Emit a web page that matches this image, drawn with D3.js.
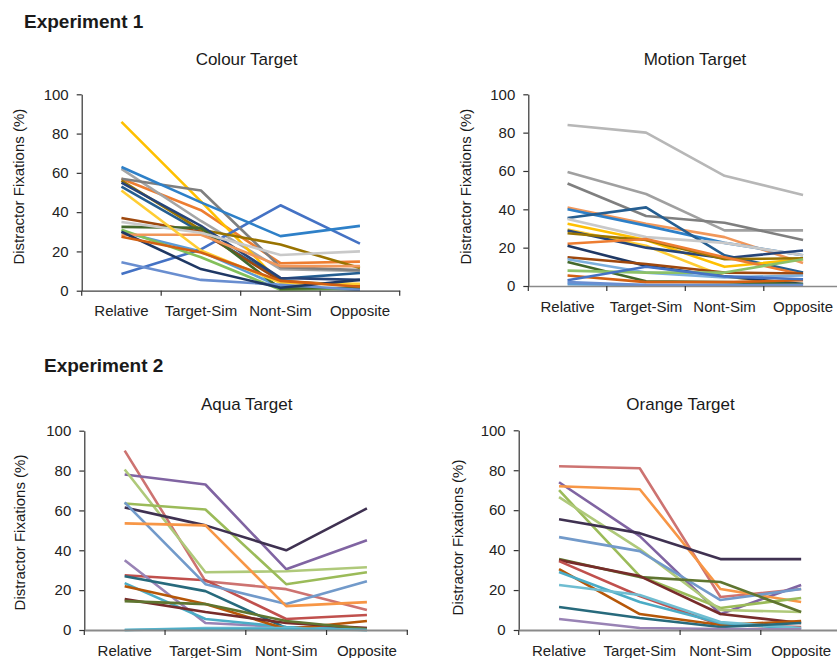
<!DOCTYPE html>
<html><head><meta charset="utf-8">
<script src="https://cdn.jsdelivr.net/npm/d3@7"></script>
<style>
body{margin:0;background:#fff;}
svg{display:block;font-family:"Liberation Sans",Arial,sans-serif;}
</style></head>
<body><svg id="c" width="837" height="658"></svg>
<script>
const categories = ["Relative","Target-Sim","Nont-Sim","Opposite"];
const yTicks = [0,20,40,60,80,100];

// Experiment 1 – Colour Target (one row per participant)
const colourValues = [
  [30,20,2,0.5],[57,41,14,14.8],[62,35.5,11,10],[86,45.5,4,3],[8.5,21,43.5,24],
  [31,17,0.5,1],[53,30,6,9],[37,30,5,2.5],[57,51,12,10.5],[56,31,23.5,11.5],
  [55,33,6.5,5.5],[32.5,32,1,1.5],[63,45,27.8,33],[28.5,28.5,12.5,12.5],[35,29.5,18.2,20],
  [51,20.5,4,3.5],[14.5,5.5,3,0.5],[30,11,1.5,5.5],[27.5,19.5,5,2]
];
const colourColors = ["#5B9BD5","#ED7D31","#A5A5A5","#FFC000","#4472C4","#82C05A","#255E91","#9E480E","#7F7F7F","#997300",
  "#264478","#43682B","#2E80C8","#F1975A","#C9C9C9","#FFCD33","#698ED0","#1F3864","#D26012"];

// Experiment 1 – Motion Target
const motionValues = [
  [84,80,57.5,47.5],[59.5,48,29,29],[53.5,36.5,33,24],[41,32.5,25.5,12],[40,31.5,22.5,16],
  [35.5,41,16,7],[35,25.5,22.5,16],[32.5,24,10,14],[29.5,21,5,0.5],[29,20,14.5,18.5],
  [27.5,24,14,14.5],[22,24.5,15,6],[21,10.5,5,1],[15,11.5,7,6.5],[14,7,4.5,5.5],
  [12.5,2.5,2,1],[8,7,7,14],[5.5,2,2,3],[3,10,5,3.5],[1,0.5,0.5,0.5],[2,0.5,0.3,0.5]
];
const motionColors = ["#B7B7B7","#A0A0A0","#7F7F7F","#F1975A","#2E80C8","#255E91","#C9C9C9","#FFC000","#FFCD33","#264478",
  "#997300","#ED7D31","#1F3864","#9E480E","#7CAFDD","#43682B","#8CC168","#D26012","#4472C4","#5B9BD5","#698ED0"];

// Experiment 2 – Aqua Target
const aquaValues = [
  [90,24.5,20.5,10],[27.5,25,5.5,7.5],[78,73,30.5,45],[80.5,29,29.5,31.5],[63.5,60.5,23,29],
  [61.5,52.5,40,61],[64,23,13,24.5],[53.5,52.5,12,14],[35,3.5,1.5,1],[27,19.5,1,0.5],
  [23.5,5.5,1.5,0],[22,13,0.5,4.5],[15.5,9,3.5,1],[14.5,13,4.5,0.5],[0,1,1,0],[0,0.5,0.5,0]
];
const aquaColors = ["#CD7371","#C0504D","#8064A2","#AFC97A","#9BBB59","#3F3151","#729ACA","#F79646","#9983B5","#276A7C",
  "#4BACC6","#B65708","#772C2A","#5F7530","#6FBDD1","#4BACC6"];

// Experiment 2 – Orange Target
const orangeValues = [
  [82,81,16.5,20.5],[74,47,8,22.5],[72,70.5,20.5,14],[70,27,11,16],[66.5,40.5,10,9],
  [55.5,48.5,35.5,35.5],[46.5,39.5,15,20.5],[35.5,26.5,24,9],[35,27,8,3.5],[34.5,17,2.5,1.5],
  [30.5,8,2.5,4.5],[29,14,3.5,0.5],[22.5,17.5,4,1],[11.5,6,1.5,3.5],[5.5,1,0.5,0.3]
];
const orangeColors = ["#CD7371","#8064A2","#F79646","#9BBB59","#AFC97A","#3F3151","#729ACA","#5F7530","#772C2A","#C0504D",
  "#B65708","#4BACC6","#6FBDD1","#276A7C","#9983B5"];

const svg = d3.select("#c");

// section headings
svg.append("text").attr("x",24).attr("y",28).attr("font-size",19).attr("font-weight","bold").attr("fill","#1a1a1a").text("Experiment 1");
svg.append("text").attr("x",44).attr("y",372).attr("font-size",19).attr("font-weight","bold").attr("fill","#1a1a1a").text("Experiment 2");

const panels = [
  {title:"Colour Target", tx:246.5, ty:65, x0:81.7, bw:79.5, yTop:94.3, yBot:290.7, labX:19, labY:186.7, values:colourValues, colors:colourColors, xAxisColor:"#404040", xAxisW:1.2},
  {title:"Motion Target", tx:695, ty:65, x0:528.3, bw:78.5, yTop:94.3, yBot:286, labX:466, labY:186.7, values:motionValues, colors:motionColors, xAxisColor:"#8a8a8a", xAxisW:1.5},
  {title:"Aqua Target", tx:246.7, ty:410, x0:84.3, bw:80.75, yTop:430.7, yBot:630, labX:19.5, labY:532.5, values:aquaValues, colors:aquaColors, xAxisColor:"#8a8a8a", xAxisW:1.8},
  {title:"Orange Target", tx:680.5, ty:410, x0:518.7, bw:80.7, yTop:430.3, yBot:630, labX:458, labY:537.5, values:orangeValues, colors:orangeColors, xAxisColor:"#8a8a8a", xAxisW:2}
];

panels.forEach(p => {
  const g = svg.append("g");
  const x = d3.scaleBand().domain(categories).range([p.x0, p.x0 + p.bw*categories.length]).padding(0);
  const y = d3.scaleLinear().domain([0,100]).range([p.yBot, p.yTop]);

  g.append("text").attr("x",p.tx).attr("y",p.ty).attr("text-anchor","middle").attr("font-size",17).attr("fill","#1a1a1a").text(p.title);
  g.append("text").attr("transform",`translate(${p.labX},${p.labY}) rotate(-90)`).attr("text-anchor","middle").attr("dy","0.35em")
    .attr("font-size",15).attr("fill","#1a1a1a").text("Distractor Fixations (%)");

  // y axis
  const ya = g.append("g").attr("transform",`translate(${p.x0},0)`)
    .call(d3.axisLeft(y).tickValues(yTicks).tickSize(5).tickSizeOuter(0).tickPadding(8));
  ya.select(".domain").attr("stroke","#333").attr("stroke-width",1.2);
  ya.selectAll(".tick line").attr("stroke","#333").attr("stroke-width",1.2);
  ya.selectAll(".tick text").attr("font-size",15).attr("fill","#222").attr("font-family","Liberation Sans, Arial, sans-serif");

  // lines
  const line = d3.line().x((d,i)=>x(categories[i])+x.bandwidth()/2).y(d=>y(d));
  g.selectAll("path.series").data(p.values).join("path").attr("class","series")
    .attr("d",line).attr("fill","none").attr("stroke",(d,i)=>p.colors[i]).attr("stroke-width",2.6)
    .attr("stroke-linejoin","round");

  // x axis
  const xa = g.append("g").attr("transform",`translate(0,${p.yBot})`)
    .call(d3.axisBottom(x).tickSize(0).tickSizeOuter(0).tickPadding(15));
  xa.select(".domain").attr("stroke",p.xAxisColor).attr("stroke-width",p.xAxisW);
  xa.selectAll(".tick text").attr("font-size",15).attr("fill","#222").attr("font-family","Liberation Sans, Arial, sans-serif");
  // category boundary ticks
  const bounds = d3.range(categories.length+1).map(i => x.range()[0] + i*x.step());
  g.selectAll("line.bt").data(bounds).join("line").attr("class","bt")
    .attr("x1",d=>d).attr("x2",d=>d).attr("y1",p.yBot).attr("y2",p.yBot+5)
    .attr("stroke","#333").attr("stroke-width",1.2);
});
</script></body></html>
